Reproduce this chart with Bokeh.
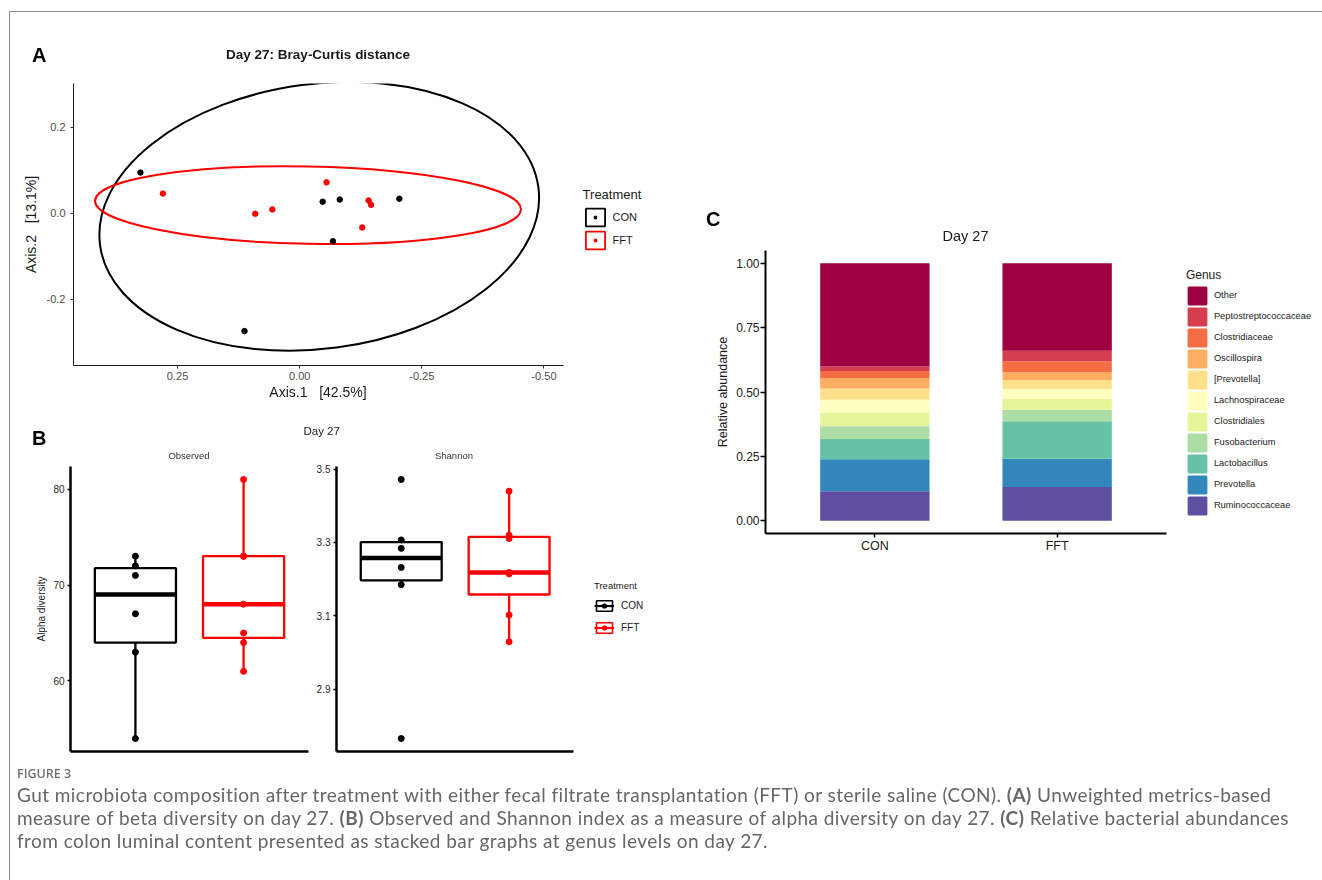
import numpy as np
from bokeh.plotting import figure
from bokeh.models import (Range1d, FixedTicker, Legend, LegendItem,
                          ColumnDataSource, Div, NumeralTickFormatter)
from bokeh.layouts import column, row
from bokeh.embed import file_html
from bokeh.resources import INLINE

FONT = "Liberation Sans"

# ---------------- data ----------------
groups = ["CON", "FFT"]
group_colors = ["#000000", "#FF0000"]

# Panel A: PCoA on Bray-Curtis distance, day 27
pcoa_con_axis1 = [0.326, -0.047, -0.082, -0.204, -0.068, 0.113]
pcoa_con_axis2 = [0.095, 0.027, 0.032, 0.034, -0.065, -0.274]
pcoa_fft_axis1 = [0.280, 0.091, 0.056, -0.055, -0.141, -0.146, -0.128]
pcoa_fft_axis2 = [0.046, -0.001, 0.009, 0.072, 0.030, 0.020, -0.033]
# confidence ellipses (CON, FFT): centre, full width / height in data units, rotation (rad)
ellipse_x = [-0.040, -0.017]
ellipse_y = [-0.007, 0.019]
ellipse_w = [0.905, 0.872]
ellipse_h = [0.616, 0.180]
ellipse_angle = [0.131, -0.020]
axis1_label = "Axis.1   [42.5%]"
axis2_label = "Axis.2\u00a0\u00a0\u00a0[13.1%]"
pcoa_x_limits = (0.463, -0.540)
pcoa_y_limits = (-0.354, 0.302)
pcoa_x_ticks = [0.25, 0.0, -0.25, -0.50]
pcoa_y_ticks = [-0.2, 0.0, 0.2]

# Panel B: alpha diversity, day 27
observed_con = [54, 63, 67, 71, 72, 73]
observed_fft = [61, 64, 65, 68, 73, 73, 81]
shannon_con = [2.765, 3.185, 3.232, 3.284, 3.307, 3.472]
shannon_fft = [3.029, 3.102, 3.214, 3.218, 3.311, 3.320, 3.440]
observed_ticks = [60, 70, 80]
shannon_ticks = [2.9, 3.1, 3.3, 3.5]

# Panel C: relative abundance (stack order bottom -> top)
genera = ["Ruminococcaceae", "Prevotella", "Lactobacillus", "Fusobacterium", "Clostridiales",
          "Lachnospiraceae", "[Prevotella]", "Oscillospira", "Clostridiaceae",
          "Peptostreptococcaceae", "Other"]
abund_con = [0.114, 0.125, 0.078, 0.050, 0.051, 0.052, 0.044, 0.040, 0.028, 0.017, 0.401]
abund_fft = [0.131, 0.110, 0.145, 0.045, 0.044, 0.037, 0.034, 0.031, 0.043, 0.040, 0.340]
genus_colors = ["#5E4FA2", "#3288BD", "#66C2A5", "#ABDDA4", "#E6F598", "#FFFFBF",
                "#FEE08B", "#FDAE61", "#F46D43", "#D53E4F", "#9E0142"]
abund_ticks = [0.0, 0.25, 0.5, 0.75, 1.0]

caption_label = "FIGURE 3"
caption_lines = [
    "Gut microbiota composition after treatment with either fecal filtrate transplantation (FFT) "
    "or sterile saline (CON). <b>(A)</b> Unweighted metrics-based",
    "measure of beta diversity on day 27. <b>(B)</b> Observed and Shannon index as a measure of "
    "alpha diversity on day 27. <b>(C)</b> Relative bacterial abundances",
    "from colon luminal content presented as stacked bar graphs at genus levels on day 27.",
]

# discrete positions of the groups on the x scale (ggplot style: 1, 2 with 0.6 expansion)
group_pos = [i + 1 for i in range(len(groups))]
discrete_limits = (0.4, len(groups) + 0.6)


# ---------------- helpers ----------------
def make_fig(canvas, frame, x_range, y_range):
    cl, ct, cr, cb = canvas
    fl, ft, fr, fb = frame
    p = figure(width=cr - cl, height=cb - ct, x_range=x_range, y_range=y_range, title=None,
               min_border_left=fl - cl, min_border_right=cr - fr,
               min_border_top=ft - ct, min_border_bottom=cb - fb,
               output_backend="svg", toolbar_location=None)
    p.xgrid.visible = False
    p.ygrid.visible = False
    p.outline_line_color = None
    p.border_fill_color = "white"
    p.background_fill_color = "white"
    return p


def extended_range(limits, px_visible, px_frame):
    """x range whose `limits` fill the pixels px_visible of a frame spanning px_frame
    (the extra room on the right holds the legend)."""
    a, b = limits
    per_px = (b - a) / (px_visible[1] - px_visible[0])
    return Range1d(a, b + per_px * (px_frame[1] - px_visible[1]))


def style_axis(ax, line_width, tick_out, tick_width, label_size, label_color, standoff,
               line_color="black", tick_color=None):
    ax.axis_line_color = line_color
    ax.axis_line_width = line_width
    ax.major_tick_in = 0
    ax.major_tick_out = tick_out
    ax.major_tick_line_width = tick_width
    ax.major_tick_line_color = tick_color or line_color
    ax.minor_tick_line_color = None
    ax.major_label_text_font = FONT
    ax.major_label_text_font_size = label_size
    ax.major_label_text_color = label_color
    ax.major_label_standoff = standoff
    ax.axis_label_text_font = FONT
    ax.axis_label_text_font_style = "normal"


def make_legend(items, location, title, gw, gh, spacing, standoff, label_size, title_size,
                title_standoff):
    return Legend(items=items, location=location, title=title,
                  glyph_width=gw, glyph_height=gh, label_height=1, spacing=spacing,
                  padding=0, margin=0, border_line_color=None, background_fill_alpha=0,
                  inactive_fill_alpha=0,
                  label_standoff=standoff, label_text_font=FONT, label_text_font_size=label_size,
                  label_text_color="#1a1a1a", title_text_font=FONT,
                  title_text_font_size=title_size, title_text_font_style="normal",
                  title_text_color="#1a1a1a", title_standoff=title_standoff)


def html_text(x, cy, text, size, color="#1a1a1a", bold=False, align="center",
              font=FONT, cap=0.5885, extra="", ws="nowrap"):
    lh = round(size * 1.2, 2)
    top = round(cy - cap * size, 2)
    weight = "bold" if bold else "normal"
    if align == "center":
        pos = "left:%.2fpx;width:600px;text-align:center;" % (x - 300)
    else:
        pos = "left:%.2fpx;" % x
    return ('<div style="position:fixed;top:%.2fpx;%sfont-family:\'%s\';font-size:%spx;'
            'font-weight:%s;color:%s;line-height:%spx;white-space:%s;margin:0;padding:0;%s">'
            '%s</div>' % (top, pos, font, size, weight, color, lh, ws, extra, text))


def box_stats(vals):
    v = np.sort(np.asarray(vals, dtype=float))
    q1, med, q3 = np.percentile(v, [25, 50, 75])
    iqr = q3 - q1
    lo = v[v >= q1 - 1.5 * iqr].min()
    hi = v[v <= q3 + 1.5 * iqr].max()
    return q1, med, q3, lo, hi


def expanded(vals, mult=0.05):
    lo, hi = min(vals), max(vals)
    d = (hi - lo) * mult
    return Range1d(lo - d, hi + d)


# ---------------- Panel A ----------------
A_canvas = (0, 0, 700, 445)
A_frame = (73, 83, 700, 365)
A_visible_x = (73, 563)
pA = make_fig(A_canvas, A_frame, extended_range(pcoa_x_limits, A_visible_x, (73, 700)),
              Range1d(*pcoa_y_limits))
pA.ellipse(x=ellipse_x, y=ellipse_y, width=ellipse_w, height=ellipse_h, angle=ellipse_angle,
           fill_color=None, line_color=group_colors, line_width=2)
pA.scatter(pcoa_con_axis1, pcoa_con_axis2, size=5.5, color=group_colors[0])
pA.scatter(pcoa_fft_axis1, pcoa_fft_axis2, size=5.5, color=group_colors[1])

style_axis(pA.xaxis[0], 1, 3, 1, "11px", "#4d4d4d", 3, line_color="#1a1a1a", tick_color="#333333")
style_axis(pA.yaxis[0], 1, 3, 1, "11px", "#4d4d4d", 5, line_color="#1a1a1a", tick_color="#333333")
pA.xaxis.bounds = (min(pcoa_x_limits), max(pcoa_x_limits))
pA.xaxis.ticker = FixedTicker(ticks=pcoa_x_ticks)
pA.xaxis.formatter = NumeralTickFormatter(format="0.00")
pA.yaxis.ticker = FixedTicker(ticks=pcoa_y_ticks)
pA.yaxis.formatter = NumeralTickFormatter(format="0.0")
pA.yaxis.axis_label = axis2_label
pA.yaxis.axis_label_text_font_size = "14px"
pA.yaxis.axis_label_text_color = "#1a1a1a"
pA.yaxis.axis_label_standoff = 5

# legend keys (hidden renderers used only for the legend swatches)
legA_items = []
for g, c, xs, ys in zip(groups, group_colors, [pcoa_con_axis1, pcoa_fft_axis1],
                        [pcoa_con_axis2, pcoa_fft_axis2]):
    kbox = pA.quad(left=xs[:1], right=xs[:1], top=ys[:1], bottom=ys[:1], fill_color=None,
                   line_color=c, line_width=1.8, visible=False)
    kdot = pA.scatter(x=xs[:1], y=ys[:1], marker="circle", size=4, fill_color=c,
                      line_color="white", line_width=5, visible=False)
    legA_items.append(LegendItem(label=g, renderers=[kbox, kdot]))
pA.add_layout(make_legend(legA_items, (509.6, 114.5), "Treatment", 24, 22, 1, 6, "11px", "13px", 4))

# ---------------- Panel B ----------------
obs_canvas = (0, 445, 313, 762)
obs_frame = (70, 466, 308, 751)
sha_canvas = (313, 445, 700, 762)
sha_frame = (335, 466, 700, 751)
sha_visible_x = (335, 573)

pO = make_fig(obs_canvas, obs_frame, Range1d(*discrete_limits), expanded(observed_con + observed_fft))
pS = make_fig(sha_canvas, sha_frame, extended_range(discrete_limits, sha_visible_x, (335, 700)),
              expanded(shannon_con + shannon_fft))


def draw_box(p, vals_by_group):
    stats = [box_stats(v) for v in vals_by_group]
    q1 = [s[0] for s in stats]
    med = [s[1] for s in stats]
    q3 = [s[2] for s in stats]
    lo = [s[3] for s in stats]
    hi = [s[4] for s in stats]
    p.segment(x0=group_pos, y0=q3, x1=group_pos, y1=hi, line_color=group_colors, line_width=2.3)
    p.segment(x0=group_pos, y0=q1, x1=group_pos, y1=lo, line_color=group_colors, line_width=2.3)
    p.vbar(x=group_pos, bottom=q1, top=q3, width=0.75, fill_color="white",
           line_color=group_colors, line_width=2.3)
    p.rect(x=group_pos, y=med, width=0.75, height=4.5, height_units="screen",
           fill_color=group_colors, line_color=None)
    xs = [gp for gp, v in zip(group_pos, vals_by_group) for _ in v]
    ys = [y for v in vals_by_group for y in v]
    cs = [c for c, v in zip(group_colors, vals_by_group) for _ in v]
    p.scatter(xs, ys, size=6, color=cs)
    return stats


draw_box(pO, [observed_con, observed_fft])
sha_stats = draw_box(pS, [shannon_con, shannon_fft])

for p, ticks, fmt in [(pO, observed_ticks, "0"), (pS, shannon_ticks, "0.0")]:
    style_axis(p.yaxis[0], 2.5, 3, 1.5, "10px", "#262626", 3)
    p.yaxis.ticker = FixedTicker(ticks=ticks)
    p.yaxis.formatter = NumeralTickFormatter(format=fmt)
    style_axis(p.xaxis[0], 2.5, 0, 1, "10px", "#262626", 0)
    p.xaxis.ticker = FixedTicker(ticks=[])
    p.xaxis.bounds = discrete_limits
pO.yaxis.axis_label = "Alpha diversity"
pO.yaxis.axis_label_text_font_size = "10px"
pO.yaxis.axis_label_text_color = "#262626"
pO.yaxis.axis_label_standoff = 3

legB_items = []
for g, c, gp, st in zip(groups, group_colors, group_pos, sha_stats):
    kbox = pS.quad(left=[gp], right=[gp], top=[st[2]], bottom=[st[0]], fill_color=None,
                   line_color=c, line_width=1.6, visible=False)
    kmed = pS.line(x=[gp, gp], y=[st[1], st[1]], line_color=c, line_width=2.2, visible=False)
    kdot = pS.scatter(x=[gp], y=[st[1]], marker="circle", size=4, fill_color=c, line_color=None,
                      visible=False)
    legB_items.append(LegendItem(label=g, renderers=[kbox, kmed, kdot]))
pS.add_layout(make_legend(legB_items, (258, 117.5), "Treatment", 20, 13, 9, 7, "10px", "9.5px", 8))

# ---------------- Panel C ----------------
C_canvas = (700, 0, 1320, 762)
C_frame = (765, 250, 1320, 533)
C_visible_x = (765, 1166)
pC = make_fig(C_canvas, C_frame, extended_range(discrete_limits, C_visible_x, (765, 1320)),
              Range1d(-0.05, 1.05))
srcC = ColumnDataSource(dict(x=group_pos, **{g: [c, f] for g, c, f in zip(genera, abund_con, abund_fft)}))
rsC = pC.vbar_stack(genera, x="x", width=0.6, fill_color=genus_colors, line_color=None, source=srcC)

style_axis(pC.yaxis[0], 2, 5, 1.5, "12px", "#1a1a1a", 1)
pC.yaxis.ticker = FixedTicker(ticks=abund_ticks)
pC.yaxis.formatter = NumeralTickFormatter(format="0.00")
pC.yaxis.axis_label = "Relative abundance"
pC.yaxis.axis_label_text_font_size = "12.5px"
pC.yaxis.axis_label_text_color = "#1a1a1a"
pC.yaxis.axis_label_standoff = 3
style_axis(pC.xaxis[0], 2, 4, 1.5, "12.5px", "#1a1a1a", 1)
pC.xaxis.ticker = FixedTicker(ticks=group_pos)
pC.xaxis.major_label_overrides = {gp: g for gp, g in zip(group_pos, groups)}
pC.xaxis.bounds = discrete_limits

legC_items = []
for g, col, val in reversed(list(zip(genera, genus_colors, abund_con))):
    key = pC.quad(left=[group_pos[0]], right=[group_pos[0]], top=[val], bottom=[0],
                  fill_color=col, line_color=col, line_width=2.2, visible=False)
    legC_items.append(LegendItem(label=g, renderers=[key]))
pC.add_layout(make_legend(legC_items, (420.9, 17.5), "Genus", 22, 21, 0, 6, "9.3px", "12px", 3))

# ---------------- free texts, frame line and caption ----------------
OPEN = "Open Sans"
parts = [
    '<div style="position:fixed;left:9px;top:11px;width:1400px;height:900px;'
    'border-left:1.5px solid #8a8a8a;border-top:1.5px solid #8a8a8a;pointer-events:none;"></div>',
    html_text(32, 55, "A", 20, color="black", bold=True, align="left"),
    html_text(318, 55, "Day 27: Bray-Curtis distance", 13.5, bold=True),
    html_text(318, 392, axis1_label, 14, ws="pre"),
    html_text(32, 437.5, "B", 20, color="black", bold=True, align="left"),
    html_text(321.7, 431.7, "Day 27", 11.5),
    html_text(189, 455.7, "Observed", 9.5, color="#333333"),
    html_text(454, 456, "Shannon", 9.5, color="#333333"),
    html_text(706, 219, "C", 20, color="black", bold=True, align="left"),
    html_text(965.5, 237, "Day 27", 14.5),
    html_text(17, 774, caption_label, 12.5, color="#707070", align="left", font=OPEN, cap=0.631,
              extra="font-weight:600;"),
]
for i, line in enumerate(caption_lines):
    parts.append(html_text(17, 796 + 23 * i, line, 19, color="#666666", align="left",
                           font="Lato", cap=0.62, extra="letter-spacing:0.45px;"))
cap = Div(text="".join(parts), width=1320, height=60)

layout = column(row(column(pA, row(pO, pS)), pC), cap)
open("out.html", "w").write(file_html(layout, INLINE))
